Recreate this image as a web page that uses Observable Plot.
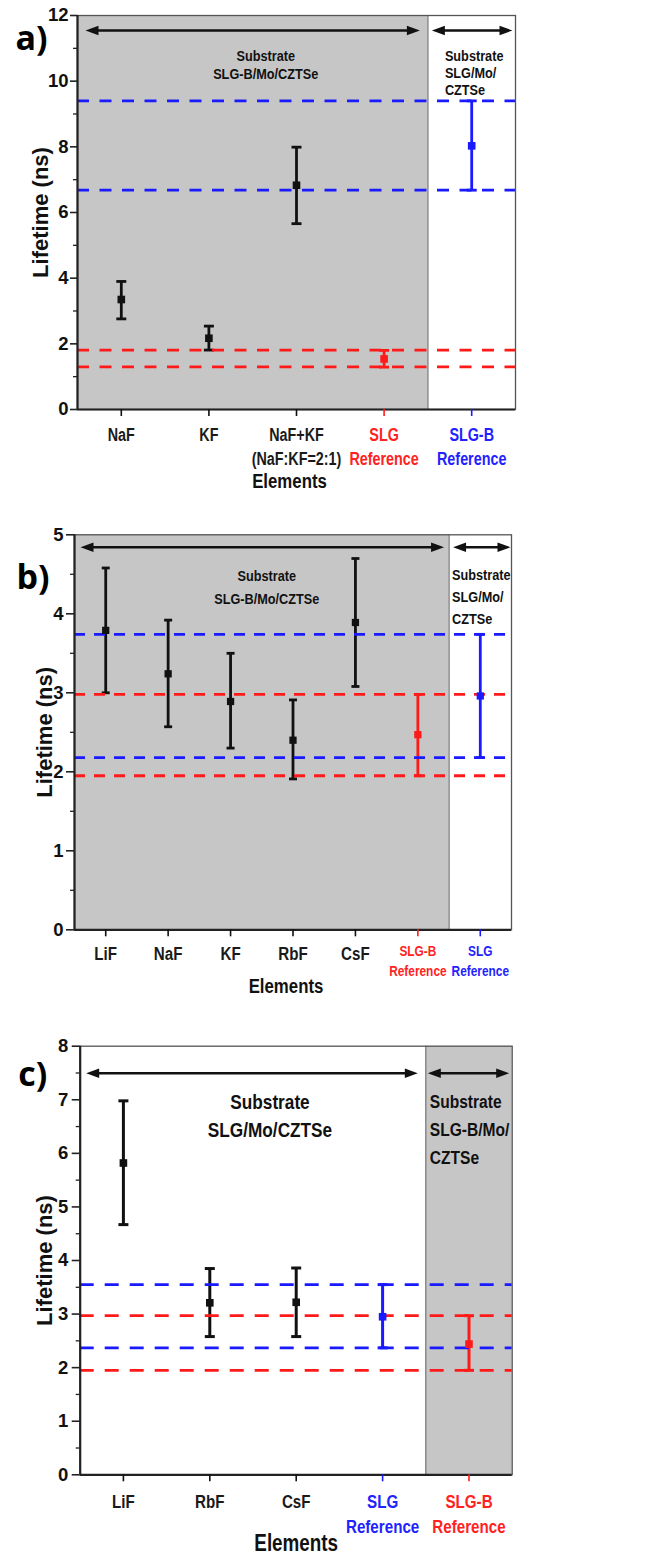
<!DOCTYPE html>
<html><head><meta charset="utf-8">
<script src="https://cdn.jsdelivr.net/npm/d3@7"></script>
<script src="https://cdn.jsdelivr.net/npm/@observablehq/plot@0.6"></script>
<style>
body{margin:0;background:#fff;}
#wrap{position:relative;width:664px;height:1555px;overflow:hidden;}
.panel{position:absolute;left:0;}
.panel svg{overflow:visible;}
</style></head><body><div id="wrap"></div>
<script>
// ---------- Panel a data ----------
const aCats = ["NaF", "KF", "NaF+KF\n(NaF:KF=2:1)", "SLG\nReference", "SLG-B\nReference"];
const aMean = [3.35, 2.17, 6.83, 1.54, 8.03];
const aLow  = [2.76, 1.81, 5.66, 1.29, 6.68];
const aHigh = [3.90, 2.54, 7.99, 1.80, 9.40];
const aKind = ["sample", "sample", "sample", "red", "blue"];
const aRedLines  = [1.30, 1.81];
const aBlueLines = [6.68, 9.40];
const aRegions = [[1, 4], [5, 5]];
const aRegionText = ["Substrate\nSLG-B/Mo/CZTSe", "Substrate\nSLG/Mo/\nCZTSe"];
const aGray = 0;
const aYTicks = [0, 2, 4, 6, 8, 10, 12];
const aYMinor = [1, 3, 5, 7, 9, 11];

// ---------- Panel b data ----------
const bCats = ["LiF", "NaF", "KF", "RbF", "CsF", "SLG-B\nReference", "SLG\nReference"];
const bMean = [3.79, 3.24, 2.89, 2.40, 3.89, 2.47, 2.96];
const bLow  = [3.00, 2.57, 2.30, 1.91, 3.08, 1.95, 2.18];
const bHigh = [4.58, 3.92, 3.50, 2.91, 4.70, 2.98, 3.74];
const bKind = ["sample", "sample", "sample", "sample", "sample", "red", "blue"];
const bRedLines  = [1.95, 2.98];
const bBlueLines = [2.18, 3.74];
const bRegions = [[1, 6], [7, 7]];
const bRegionText = ["Substrate\nSLG-B/Mo/CZTSe", "Substrate\nSLG/Mo/\nCZTSe"];
const bGray = 0;
const bYTicks = [0, 1, 2, 3, 4, 5];
const bYMinor = [0.5, 1.5, 2.5, 3.5, 4.5];

// ---------- Panel c data ----------
const cCats = ["LiF", "RbF", "CsF", "SLG\nReference", "SLG-B\nReference"];
const cMean = [5.82, 3.21, 3.22, 2.95, 2.44];
const cLow  = [4.67, 2.58, 2.58, 2.37, 1.95];
const cHigh = [6.98, 3.85, 3.86, 3.55, 2.97];
const cKind = ["sample", "sample", "sample", "blue", "red"];
const cRedLines  = [1.95, 2.97];
const cBlueLines = [2.37, 3.55];
const cRegions = [[1, 4], [5, 5]];
const cRegionText = ["Substrate\nSLG/Mo/CZTSe", "Substrate\nSLG-B/Mo/\nCZTSe"];
const cGray = 1;
const cYTicks = [0, 1, 2, 3, 4, 5, 6, 7, 8];
const cYMinor = [0.5, 1.5, 2.5, 3.5, 4.5, 5.5, 6.5, 7.5];

// ---------- styles ----------
const NARROW = "'Liberation Sans',Arial,'Narrow-Scaled',sans-serif"; // drawn condensed below
const SANS = "'Liberation Sans',Arial,sans-serif";
const LETTER = "'Open Sans','Noto Sans',sans-serif";
const RED = "#ff1a1a", BLUE = "#1a1aff", INK = "#111111", GRAY = "#c6c6c6";
const kindColor = {sample: INK, red: RED, blue: BLUE};
const kindText = {sample: "#1a1a1a", red: "#ff2222", blue: "#2222ff"};

const capSymbol = {draw(ctx, size) { const r = Math.sqrt(size / Math.PI); ctx.moveTo(-r, 0); ctx.lineTo(r, 0); }};
const headSymbol = {draw(ctx, size) { const L = Math.sqrt(size / Math.PI); const h = L * 0.36; ctx.moveTo(0, 0); ctx.lineTo(-L, -h); ctx.lineTo(-L, h); ctx.closePath(); }};

function panel(d, s) {
  const n = d.cats.length;
  const idx = d3.range(1, n + 1);
  const W = 664;
  const pxX = (W - s.ml - s.mr) / n;
  const ymax = d3.max(d.yTicks);
  const rows = idx.map(i => ({
    i, cat: d.cats[i - 1], mean: d.mean[i - 1], lo: d.low[i - 1], hi: d.high[i - 1],
    color: kindColor[d.kind[i - 1]], tcolor: kindText[d.kind[i - 1]],
    size: d.kind[i - 1] === "sample" ? s.labSize : s.refSize
  }));
  const regs = d.regions.map(([a, b], k) => ({k, x1: a - 0.5, x2: b + 0.5, text: d.regionText[k]}));
  const gray = regs[d.gray];
  const boundary = regs[0].x2;
  const arrows = regs.map(r => ({
    k: r.k,
    x1: r.x1 + s.arrowInset[r.k][0] / pxX,
    x2: r.x2 - s.arrowInset[r.k][1] / pxX
  }));
  const lines = arrows.map(a => ({x1: a.x1 + 8 / pxX, x2: a.x2 - 8 / pxX}));
  const heads = arrows.flatMap(a => [{x: a.x1, rot: 180}, {x: a.x2, rot: 0}]);

  const svg = Plot.plot({
    width: W, height: s.H,
    marginLeft: s.ml, marginRight: s.mr, marginTop: s.mt, marginBottom: s.mb,
    x: {domain: [0.5, n + 0.5]},
    y: {domain: [0, ymax]},
    style: {overflow: "visible", background: "transparent"},
    marks: [
      Plot.rect([gray], {x1: "x1", x2: "x2", y1: () => 0, y2: () => ymax, fill: GRAY}),
      Plot.ruleX([boundary], {stroke: "#8a8a8a", strokeWidth: 1.5}),
      // error bars
      Plot.ruleX(rows, {x: "i", y1: "lo", y2: "hi", stroke: "color", strokeWidth: s.barW}),
      Plot.dot(rows, {x: "i", y: "hi", symbol: capSymbol, r: s.capR, stroke: "color", strokeWidth: s.barW}),
      Plot.dot(rows, {x: "i", y: "lo", symbol: capSymbol, r: s.capR, stroke: "color", strokeWidth: s.barW}),
      // reference dashed lines
      Plot.ruleY(d.red, {stroke: RED, strokeWidth: 2.8, strokeDasharray: s.dash}),
      Plot.ruleY(d.blue, {stroke: BLUE, strokeWidth: 2.8, strokeDasharray: s.dash}),
      Plot.dot(rows, {x: "i", y: "mean", symbol: "square", r: s.sqR, fill: "color"}),
      // frame & axes
      Plot.frame({stroke: "#555", strokeWidth: 1.3}),
      Plot.ruleX([0.5], {stroke: "#222", strokeWidth: 2.2}),
      Plot.ruleY([0], {stroke: "#222", strokeWidth: 2.2}),
      Plot.axisY({ticks: d.yTicks, tickSize: s.tickY, tickPadding: s.padY, label: null, tickFormat: t => String(t),
        fontSize: 18.5, fontWeight: "bold", fontFamily: SANS, fill: INK, stroke: "#222", strokeWidth: 1.6}),
      Plot.axisY({ticks: d.yMinor, tickSize: 4, tickFormat: () => "", label: null, stroke: "#222", strokeWidth: 1.3}),
      Plot.axisX({ticks: idx, tickSize: 7, tickFormat: () => "", label: null,
        stroke: t => kindColor[d.kind[t - 1]], strokeWidth: 1.6}),
      // x tick labels
      Plot.text(rows, {x: "i", text: "cat", frameAnchor: "bottom", dy: s.labDy, lineAnchor: "top",
        fill: "tcolor", fontSize: "size", lineHeight: s.labLH, fontFamily: NARROW, fontWeight: "bold"}),
      Plot.text(["Elements"], {frameAnchor: "bottom", dy: s.elDy, dx: s.elDx, lineAnchor: "top",
        fontSize: s.elSize, fontFamily: NARROW, fontWeight: "bold", fill: INK}),
      Plot.text(["Lifetime (ns)"], {frameAnchor: "left", dx: s.titleDx, rotate: -90, textAnchor: "middle", lineAnchor: "middle",
        fontSize: 22, fontFamily: SANS, fontWeight: "bold", fill: INK}),
      // region arrows
      Plot.ruleY(lines, {y: () => ymax, x1: "x1", x2: "x2", dy: s.arrowDy, stroke: INK, strokeWidth: 2.6}),
      Plot.dot(heads, {x: "x", y: () => ymax, dy: s.arrowDy, rotate: "rot", symbol: headSymbol, r: 13, fill: INK}),
      // region text
      Plot.text([regs[0]], {x: r => (r.x1 + r.x2) / 2, text: "text", frameAnchor: "top", dx: s.t0.dx, dy: s.t0.dy,
        lineAnchor: "top", lineHeight: s.t0.lh, fontSize: s.t0.size, fontFamily: NARROW, fontWeight: "bold", fill: INK}),
      Plot.text([regs[1]], {x: "x1", text: "text", frameAnchor: "top", dx: s.t1.dx, dy: s.t1.dy, textAnchor: "start",
        lineAnchor: "top", lineHeight: s.t1.lh, fontSize: s.t1.size, fontFamily: NARROW, fontWeight: "bold", fill: INK}),
      // panel letter
      Plot.text([s.letter], {frameAnchor: "top-left", dx: s.letDx, dy: s.letDy, textAnchor: "start", lineAnchor: "middle",
        fontSize: 34, fontFamily: LETTER, fontWeight: "bold", fill: "#000"})
    ]
  });
  // render the condensed (Arial-Narrow-like) labels by squeezing glyphs horizontally about their anchor
  svg.querySelectorAll("g[font-family]").forEach(g => {
    if (!g.getAttribute("font-family").includes("Narrow-Scaled")) return;
    g.querySelectorAll("text").forEach(t => {
      const tr = t.getAttribute("transform");
      if (tr) t.setAttribute("transform", tr + " scale(0.82,1)");
      else {
        const x = +t.getAttribute("x") || 0, y = +t.getAttribute("y") || 0;
        t.setAttribute("transform", `translate(${x},${y}) scale(0.82,1) translate(${-x},${-y})`);
      }
    });
  });
  return svg;
}

const wrap = document.getElementById("wrap");
function place(node, top) {
  const div = document.createElement("div");
  div.className = "panel";
  div.style.top = top + "px";
  div.appendChild(node);
  wrap.appendChild(div);
}

place(panel(
  {cats: aCats, mean: aMean, low: aLow, high: aHigh, kind: aKind, red: aRedLines, blue: aBlueLines,
   regions: aRegions, regionText: aRegionText, gray: aGray, yTicks: aYTicks, yMinor: aYMinor},
  {H: 500, ml: 77, mr: 149, mt: 15, mb: 91, letter: "a)", letDx: -62, letDy: 24,
   barW: 2.8, capR: 5, sqR: 4.3, dash: "12,10.5", tickY: 7, padY: 2,
   labDy: 15, labLH: 1.35, labSize: 17.5, refSize: 17.5, elDy: 64, elDx: -7, elSize: 20.5, titleDx: -37,
   arrowDy: 15, arrowInset: [[8, 8], [4, 3]],
   t0: {dx: 13, dy: 32, lh: 1.2, size: 15.5}, t1: {dx: 17, dy: 33, lh: 1.1, size: 15.5}}
), 0);

place(panel(
  {cats: bCats, mean: bMean, low: bLow, high: bHigh, kind: bKind, red: bRedLines, blue: bBlueLines,
   regions: bRegions, regionText: bRegionText, gray: bGray, yTicks: bYTicks, yMinor: bYMinor},
  {H: 500, ml: 74, mr: 153, mt: 34.3, mb: 70.7, letter: "b)", letDx: -58, letDy: 43,
   barW: 2.8, capR: 4, sqR: 4.1, dash: "11,9", tickY: 8, padY: 3,
   labDy: 12.5, labLH: 1.34, labSize: 18.5, refSize: 14.5, elDy: 48.6, elDx: -7, elSize: 20.5, titleDx: -30,
   arrowDy: 12.4, arrowInset: [[6, 5], [4, 1]],
   t0: {dx: 5, dy: 29, lh: 1.53, size: 15.5}, t1: {dx: 3, dy: 29, lh: 1.43, size: 15.5}}
), 500);

place(panel(
  {cats: cCats, mean: cMean, low: cLow, high: cHigh, kind: cKind, red: cRedLines, blue: cBlueLines,
   regions: cRegions, regionText: cRegionText, gray: cGray, yTicks: cYTicks, yMinor: cYMinor},
  {H: 555, ml: 79.7, mr: 152.3, mt: 45.7, mb: 80.7, letter: "c)", letDx: -62, letDy: 29,
   barW: 3, capR: 5, sqR: 4.3, dash: "14,11", tickY: 8, padY: 4,
   labDy: 15.8, labLH: 1.35, labSize: 18.5, refSize: 18.5, elDy: 59.5, elDx: 0, elSize: 23, titleDx: -35,
   arrowDy: 27, arrowInset: [[6, 8], [2, 3]],
   t0: {dx: 17, dy: 42.5, lh: 1.35, size: 21}, t1: {dx: 4, dy: 42.5, lh: 1.46, size: 19}}
), 1000);
</script>
</body></html>
